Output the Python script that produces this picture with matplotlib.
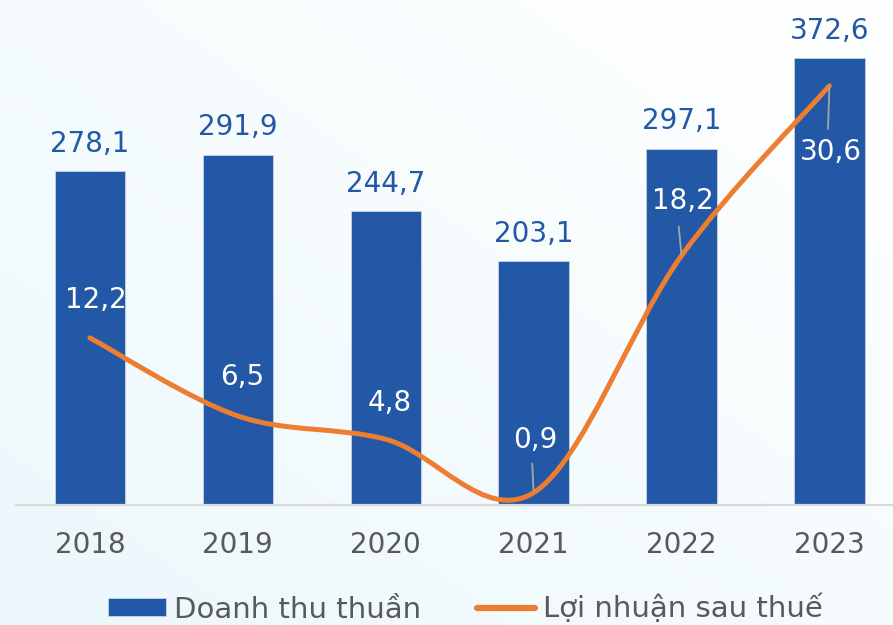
import numpy as np
import matplotlib.pyplot as plt
from matplotlib.path import Path
from matplotlib.patches import PathPatch
from matplotlib.lines import Line2D

plt.rcParams['font.family'] = ['DejaVu Sans']

# Data
years = ['2018', '2019', '2020', '2021', '2022', '2023']
revenue = [278.1, 291.9, 244.7, 203.1, 297.1, 372.6]
profit = [12.2, 6.5, 4.8, 0.9, 18.2, 30.6]

# label placement for the profit series (offset points)
profit_lbl_off = [(4, 27), (3, 28), (3, 26), (1, 38), (1, 39), (1, -48)]
leader_start = [None, None, None, (-1, 21), (-2, 21), (-1, -31)]

BLUE = '#2258A5'
ORANGE = '#ED7D31'
GREY = '#595959'


def smooth_path(x, y):
    # Excel-style smoothed line (Catmull-Rom as cubic Beziers)
    pts = np.column_stack([x, y]).astype(float)
    ext = np.vstack([pts[0], pts, pts[-1]])
    verts = [pts[0]]
    codes = [Path.MOVETO]
    for i in range(len(pts) - 1):
        p0, p1, p2, p3 = ext[i], ext[i + 1], ext[i + 2], ext[i + 3]
        verts += [p1 + (p2 - p0) / 6, p2 - (p3 - p1) / 6, p2]
        codes += [Path.CURVE4] * 3
    return Path(verts, codes)


fig = plt.figure(figsize=(8.93, 6.25), dpi=100)

# soft background gradient
bg = fig.add_axes([0, 0, 1, 1], zorder=0)
gx, gy = np.meshgrid(np.linspace(0, 1, 200), np.linspace(0, 1, 200))
t = np.clip((gx + (1 - gy)) / 2.0, 0, 1)
c0 = np.array([236, 248, 252]) / 255
c1 = np.array([255, 255, 255]) / 255
img = c0[None, None, :] * (1 - t[..., None]) + c1[None, None, :] * t[..., None]
bg.imshow(img, aspect='auto', extent=[0, 1, 0, 1], origin='upper')
bg.axis('off')

ax = fig.add_axes([16 / 893, 120 / 625, 877 / 893, 505 / 625], zorder=1)
ax.patch.set_visible(False)
x = np.arange(len(years))
bars = ax.bar(x, revenue, width=0.475, color=BLUE, edgecolor='#c8d5ea', linewidth=0.6)
ax.set_xlim(-0.5, 5.43)
ax.set_ylim(0, 421)
ax.set_xticks(x)
ax.set_xticklabels(years, fontsize=20, color=GREY)
ax.tick_params(axis='x', length=0, pad=19)
ax.set_yticks([])
for s in ['top', 'right', 'left']:
    ax.spines[s].set_visible(False)
ax.spines['bottom'].set_color('#D9D9D9')
ax.spines['bottom'].set_linewidth(1.6)

for xi, v in zip(x, revenue):
    ax.annotate(f'{v:.1f}'.replace('.', ','), xy=(xi, v), xytext=(0, 14),
                textcoords='offset points', ha='center', va='baseline',
                fontsize=20, color=BLUE)

ax2 = ax.twinx()
ax2.set_zorder(2)
ax2.patch.set_visible(False)
ax2.set_ylim(0, 36.86)
ax2.set_yticks([])
for s in ax2.spines.values():
    s.set_visible(False)

ax2.add_patch(PathPatch(smooth_path(x, profit), facecolor='none', edgecolor=ORANGE,
                        lw=3.6, capstyle='round', joinstyle='round'))

for xi, v, off, ls in zip(x, profit, profit_lbl_off, leader_start):
    ax2.annotate(f'{v:.1f}'.replace('.', ','), xy=(xi, v), xytext=off,
                 textcoords='offset points', ha='center', va='center',
                 fontsize=20, color='white')
    if ls is not None:
        ax2.annotate('', xy=(xi, v), xytext=ls, textcoords='offset points',
                     arrowprops=dict(arrowstyle='-', color='#A6A6A6', lw=1.3,
                                     shrinkA=0, shrinkB=1))

handles = [bars, Line2D([], [], color=ORANGE, lw=4.5, solid_capstyle='round')]
fig.legend(handles, ['Doanh thu thuần', 'Lợi nhuận sau thuế'], loc='center',
           bbox_to_anchor=(0.521, 0.026), ncol=2, frameon=False, fontsize=21,
           labelcolor=GREY, handlelength=2.0, handleheight=0.6,
           handletextpad=0.27, columnspacing=1.9)

fig.savefig('out.png', dpi=100)
